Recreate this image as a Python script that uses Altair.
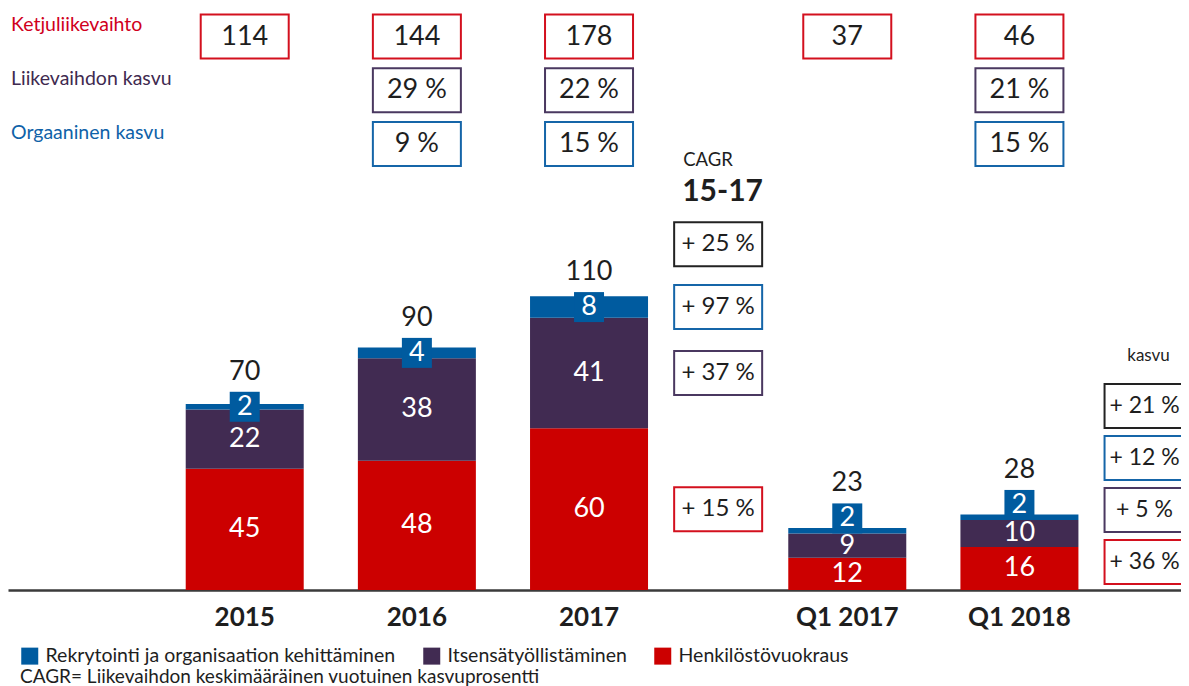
import altair as alt
import pandas as pd

# ---------------- data ----------------
periods = ["2015", "2016", "2017", "Q1 2017", "Q1 2018"]
henkilosto = [45, 48, 60, 12, 16]
itsensa = [22, 38, 41, 9, 10]
rekry = [2, 4, 8, 2, 2]
totals = ["70", "90", "110", "23", "28"]

series_names = ["Henkilöstövuokraus", "Itsensätyöllistäminen",
                "Rekrytointi ja organisaation kehittäminen"]
legend_order = ["Rekrytointi ja organisaation kehittäminen",
                "Itsensätyöllistäminen", "Henkilöstövuokraus"]

header_rows = ["Ketjuliikevaihto", "Liikevaihdon kasvu", "Orgaaninen kasvu"]
ketju = ["114", "144", "178", "37", "46"]
lv_kasvu = ["", "29 %", "22 %", "", "21 %"]
org_kasvu = ["", "9 %", "15 %", "", "15 %"]

cagr_title = "CAGR"
cagr_period = "15-17"
cagr_labels = ["+ 25 %", "+ 97 %", "+ 37 %", "+ 15 %"]   # total, rekry, itsensä, henkilöstö
kasvu_title = "kasvu"
kasvu_labels = ["+ 21 %", "+ 12 %", "+ 5 %", "+ 36 %"]   # total, rekry, itsensä, henkilöstö
footnote = "CAGR= Liikevaihdon keskimääräinen vuotuinen kasvuprosentti"

# ---------------- style ----------------
RED = "#cc0000"
PURPLE = "#412b52"
BLUE = "#005b9f"
DARK = "#1e1e1e"
BOX_RED = "#d3101e"
BOX_PURPLE = "#4a3860"
BOX_BLUE = "#1565a8"
FONT = "Lato"

W, H = 1173, 582
YMAX = 216.0
PXU = H / YMAX

columns = ["2015", "2016", "2017", "_CAGR", "Q1 2017", "Q1 2018", "_kasvu"]
gaps_before = [5, 3, 3, 2, 2, 3, 2]
slots = []
for g, c in zip(gaps_before, columns):
    for _ in range(g):
        slots.append(f"_{len(slots)}")
    slots.append(c)

X = alt.X("slot:N",
          scale=alt.Scale(type="band", domain=slots, paddingInner=0,
                          paddingOuter=0.127, align=0),
          axis=alt.Axis(title=None, ticks=False, labelAngle=0, grid=False,
                        labelExpr="indexof(datum.label, '_') === 0 ? '' : datum.label",
                        domainColor="#3a3a3a", domainWidth=2.5,
                        labelFont=FONT, labelFontWeight="bold", labelFontSize=26,
                        labelColor=DARK, labelPadding=14))
YS = alt.Scale(domain=[0, YMAX], nice=False, zero=True)

# ---------------- tables ----------------
seg_rows = []
blue_rows = []
for i, p in enumerate(periods):
    vals = [henkilosto[i], itsensa[i], rekry[i]]
    y0 = 0
    for s, v in zip(series_names, vals):
        seg_rows.append({"slot": p, "series": s, "value": v, "y0": y0, "y1": y0 + v,
                         "mid": y0 + v / 2})
        if s == series_names[2]:
            bc = y0 + 15 / PXU if p.startswith("Q1") else y0 + v / 2
            blue_rows.append({"slot": p, "value": v, "bc": bc, "total": totals[i]})
        y0 += v
seg = pd.DataFrame(seg_rows)
blue = pd.DataFrame(blue_rows)
lower = seg[seg["series"] != series_names[2]]

hdr_rows = []
hdr_cols = [BOX_RED, BOX_PURPLE, BOX_BLUE]
for r, vals in zip(header_rows, [ketju, lv_kasvu, org_kasvu]):
    for p, v in zip(periods, vals):
        if v:
            hdr_rows.append({"slot": p, "row": r, "text": v,
                             "col": hdr_cols[header_rows.index(r)]})
hdr = pd.DataFrame(hdr_rows)
row_lab = pd.DataFrame({"row": header_rows,
                        "col": ["#d0001c", "#3f2a50", "#0f62a8"]})

s17 = seg[seg["slot"] == "2017"].set_index("series")
tot17 = s17["y1"].max()
cagr = pd.DataFrame({
    "slot": "_CAGR",
    "text": cagr_labels,
    "y": [tot17 + 52 / PXU, s17.loc[series_names[2], "mid"],
          s17.loc[series_names[1], "mid"], s17.loc[series_names[0], "mid"]],
    "col": ["#222222", BOX_BLUE, BOX_PURPLE, BOX_RED],
})
kasvu_keys = ["Yhteensä", series_names[2], series_names[1], series_names[0]]
kasvu = pd.DataFrame({"slot": "_kasvu", "key": kasvu_keys, "text": kasvu_labels,
                      "col": ["#222222", BOX_BLUE, BOX_PURPLE, BOX_RED]})

RECT = "M-1,-0.5L1,-0.5L1,0.5L-1,0.5Z"
HDR_Y = alt.Y("row:N", scale=alt.Scale(type="point", domain=header_rows,
                                       range=[28.5, 136], padding=0), axis=None)
KAS_Y = alt.Y("key:N", scale=alt.Scale(type="point", domain=kasvu_keys,
                                       range=[398, 554], padding=0), axis=None)

# ---------------- layers ----------------
bars = alt.Chart(seg).mark_bar(width=118).encode(
    x=X,
    y=alt.Y("y1:Q", scale=YS, axis=None),
    y2="y0:Q",
    color=alt.Color("series:N",
                    scale=alt.Scale(domain=legend_order, range=[BLUE, PURPLE, RED]),
                    legend=alt.Legend(orient="none", legendX=12, legendY=638,
                                      direction="horizontal", title=None,
                                      symbolType="square", symbolSize=289,
                                      symbolStrokeWidth=0, symbolOpacity=1,
                                      labelFont=FONT, labelFontSize=19.5,
                                      labelColor=DARK, columnPadding=26,
                                      labelOffset=6, padding=0, labelLimit=0)),
)

seg_text = alt.Chart(lower).mark_text(font=FONT, fontSize=27, color="white",
                                      baseline="middle").encode(
    x=X, y=alt.Y("mid:Q", scale=YS, axis=None), text="value:Q")

blue_box = alt.Chart(blue).mark_square(size=900, color=BLUE, opacity=1).encode(
    x=X, y=alt.Y("bc:Q", scale=YS, axis=None))
blue_text = alt.Chart(blue).mark_text(font=FONT, fontSize=27, color="white",
                                      baseline="middle").encode(
    x=X, y=alt.Y("bc:Q", scale=YS, axis=None), text="value:Q")
total_text = alt.Chart(blue).mark_text(font=FONT, fontSize=27, color=DARK,
                                       baseline="alphabetic", dy=-27).encode(
    x=X, y=alt.Y("bc:Q", scale=YS, axis=None), text="total:N")

hdr_box = alt.Chart(hdr).mark_point(shape=RECT, size=88 ** 2, filled=False,
                                    strokeWidth=2, opacity=1).encode(
    x=X, y=HDR_Y, stroke=alt.Stroke("col:N", scale=None))
hdr_text = alt.Chart(hdr).mark_text(font=FONT, fontSize=27, color=DARK,
                                    baseline="middle").encode(
    x=X, y=HDR_Y, text="text:N")
row_text = alt.Chart(row_lab).mark_text(font=FONT, fontSize=19.5, align="left",
                                        baseline="alphabetic", dy=-5.5).encode(
    x=alt.value(3), y=HDR_Y, text="row:N", fill=alt.Fill("col:N", scale=None))

cagr_head = alt.Chart(pd.DataFrame({"slot": ["_CAGR"], "t": [cagr_title]})).mark_text(
    font=FONT, fontSize=18.5, color=DARK, align="left", baseline="middle", dx=-35).encode(
    x=X, y=alt.value(152), text="t:N")
cagr_head2 = alt.Chart(pd.DataFrame({"slot": ["_CAGR"], "t": [cagr_period]})).mark_text(
    font=FONT, fontSize=30, fontWeight="bold", color=DARK, align="left",
    baseline="middle", dx=-36).encode(
    x=X, y=alt.value(184), text="t:N")
cagr_box = alt.Chart(cagr).mark_point(shape=RECT, size=88 ** 2, filled=False,
                                      strokeWidth=2, opacity=1).encode(
    x=X, y=alt.Y("y:Q", scale=YS, axis=None), stroke=alt.Stroke("col:N", scale=None))
cagr_text = alt.Chart(cagr).mark_text(font=FONT, fontSize=24, color=DARK,
                                      baseline="middle").encode(
    x=X, y=alt.Y("y:Q", scale=YS, axis=None), text="text:N")

kasvu_head = alt.Chart(pd.DataFrame({"slot": ["_kasvu"], "t": [kasvu_title]})).mark_text(
    font=FONT, fontSize=17, color=DARK, baseline="middle").encode(
    x=X, y=alt.value(348), text="t:N")
kasvu_box = alt.Chart(kasvu).mark_point(shape=RECT, size=88 ** 2, filled=False,
                                        strokeWidth=2, opacity=1).encode(
    x=X, y=KAS_Y, stroke=alt.Stroke("col:N", scale=None))
kasvu_text = alt.Chart(kasvu).mark_text(font=FONT, fontSize=23, color=DARK,
                                        baseline="middle", dx=-4).encode(
    x=X, y=KAS_Y, text="text:N")

foot = alt.Chart(pd.DataFrame({"t": [footnote]})).mark_text(
    font=FONT, fontSize=19, color=DARK, align="left", baseline="middle").encode(
    x=alt.value(12), y=alt.value(669), text="t:N")

chart = alt.layer(
    bars, seg_text, blue_box, blue_text, total_text,
    hdr_box, hdr_text, row_text,
    cagr_head, cagr_head2, cagr_box, cagr_text,
    kasvu_head, kasvu_box, kasvu_text, foot,
).resolve_scale(y="independent").properties(
    width=W, height=H, autosize="none",
    padding={"left": 0, "top": 0, "right": 0, "bottom": 96},
).configure_view(stroke="transparent", strokeWidth=0)

chart.save("out.html", embed_options={"renderer": "svg", "actions": False})
